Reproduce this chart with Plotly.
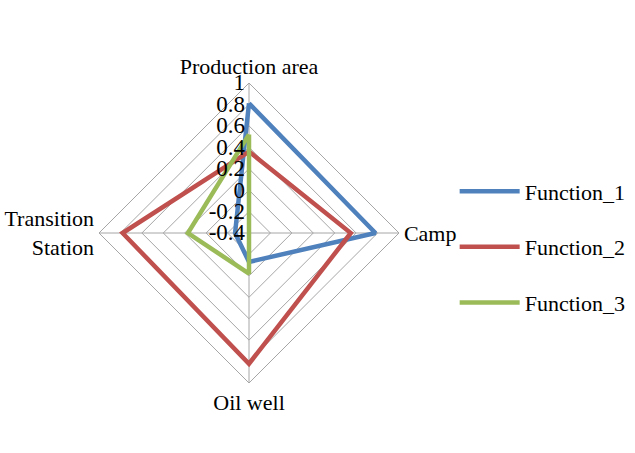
import plotly.graph_objects as go

categories = ["Production area", "Camp", "Oil well", "Transition<br>Station"]
function_1 = [0.81, 0.78, -0.13, -0.27]
function_2 = [0.36, 0.55, 0.82, 0.78]
function_3 = [0.52, -0.40, -0.02, 0.17]
tick_vals = [-0.4, -0.2, 0, 0.2, 0.4, 0.6, 0.8, 1]
tick_text = ["-0.4", "-0.2", "0", "0.2", "0.4", "0.6", "0.8", "1"]

series = [
    ("Function_1", function_1, "#4F81BD"),
    ("Function_2", function_2, "#C0504D"),
    ("Function_3", function_3, "#9BBB59"),
]

W, H = 635, 453
cx, cy, R = 249, 233, 150

fig = go.Figure()
for i, (name, vals, col) in enumerate(series):
    fig.add_trace(go.Scatterpolar(
        r=vals + [vals[0]],
        theta=categories + [categories[0]],
        mode="lines",
        name=name,
        legendgroup=f"g{i}",
        line=dict(color=col, width=4.5),
    ))

fig.update_layout(
    width=W, height=H,
    margin=dict(l=0, r=0, t=0, b=0),
    paper_bgcolor="white",
    font=dict(family="Liberation Serif", color="black"),
    polar=dict(
        domain=dict(x=[(cx - R) / W, (cx + R) / W],
                    y=[(H - cy - R) / H, (H - cy + R) / H]),
        bgcolor="white",
        gridshape="linear",
        radialaxis=dict(
            range=[-0.4, 1], tickvals=tick_vals, ticktext=tick_text,
            angle=90, tickangle=90, side="counterclockwise",
            showline=False, ticks="",
            gridcolor="#A6A6A6", gridwidth=1,
            tickfont=dict(size=23, family="Liberation Serif"),
        ),
        angularaxis=dict(
            direction="clockwise", rotation=90,
            gridcolor="#A6A6A6", gridwidth=1,
            linecolor="#A6A6A6", linewidth=1,
            ticks="",
            tickfont=dict(size=22, family="Liberation Serif"),
        ),
    ),
    legend=dict(
        x=0.716, y=0.455, xanchor="left", yanchor="middle",
        bgcolor="rgba(0,0,0,0)",
        font=dict(size=22, family="Liberation Serif"),
        tracegroupgap=24, itemwidth=60,
    ),
)

fig.write_html("out.html")
